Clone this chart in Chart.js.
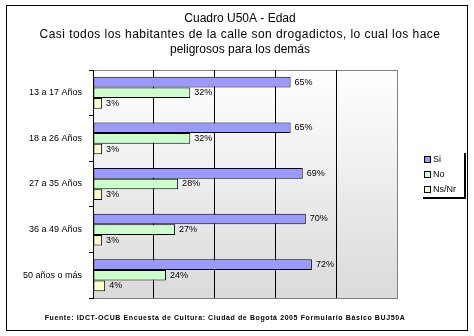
<!DOCTYPE html>
<html>
<head>
<meta charset="utf-8">
<script src="https://cdn.jsdelivr.net/npm/chart.js@4/dist/chart.umd.min.js"></script>
<style>
  body { margin: 0; background: #fff; }
  #wrap { width: 474px; height: 336px; }
</style>
</head>
<body>
<div id="wrap"><canvas id="chart" width="474" height="336"></canvas></div>
<script>
// ==================== DATA ====================
const categories = ['13 a 17 Años', '18 a 26 Años', '27 a 35 Años', '36 a 49 Años', '50 años o más'];
const siValues = [65, 65, 69, 70, 72];
const noValues = [32, 32, 28, 27, 24];
const nsnrValues = [3, 3, 3, 3, 4];
const seriesNames = ['Si', 'No', 'Ns/Nr'];
const seriesColors = ['#9999FF', '#CCFFCC', '#FFFFCC'];
const xMax = 100;
const xStep = 20;

const titleLines = [
  'Cuadro U50A - Edad',
  'Casi todos los habitantes de la calle son drogadictos, lo cual los hace',
  'peligrosos para los demás'
];
const titleSpacing = ['0px', '0.45px', '0px'];
const footerText = 'Fuente: IDCT-OCUB Encuesta de Cultura: Ciudad de Bogotá 2005 Formulario Básico BUJ50A';

// ==================== PLUGINS ====================
const frame = {
  id: 'frame',
  beforeDraw(chart) {
    const { ctx, chartArea: a } = chart;
    ctx.save();
    ctx.fillStyle = '#fff';
    ctx.fillRect(0, 0, chart.width, chart.height);
    // plot area gradient
    const g = ctx.createLinearGradient(0, a.top, 0, a.bottom);
    g.addColorStop(0, '#ffffff');
    g.addColorStop(1, '#dadada');
    ctx.fillStyle = g;
    ctx.fillRect(a.left, a.top, a.right - a.left, a.bottom - a.top);
    ctx.strokeStyle = '#808080';
    ctx.lineWidth = 1;
    ctx.beginPath();
    ctx.moveTo(a.left, a.top + 0.5);
    ctx.lineTo(a.right + 0.5, a.top + 0.5);
    ctx.stroke();
    ctx.restore();
  },
  afterDraw(chart) {
    const { ctx } = chart;
    ctx.save();
    // outer border
    ctx.strokeStyle = '#000';
    ctx.lineWidth = 1;
    ctx.strokeRect(6.5, 5.5, 461, 325);

    // title
    ctx.fillStyle = '#000';
    ctx.textAlign = 'center';
    ctx.textBaseline = 'middle';
    ctx.font = '12px "Liberation Sans", Arial, sans-serif';
    titleLines.forEach((t, i) => {
      ctx.letterSpacing = titleSpacing[i];
      ctx.fillText(t, 240, 19 + i * 15.5);
    });

    // footer
    ctx.font = 'bold 7px "Liberation Sans", Arial, sans-serif';
    ctx.letterSpacing = '0.6px';
    ctx.fillText(footerText, 225, 318);
    ctx.letterSpacing = '0px';

    // legend
    ctx.textAlign = 'left';
    ctx.font = '9px "Liberation Sans", Arial, sans-serif';
    seriesNames.forEach((name, i) => {
      const y = 160 + i * 15;
      ctx.fillStyle = seriesColors[i];
      ctx.fillRect(425, y - 3, 5, 5);
      ctx.strokeStyle = '#000';
      ctx.strokeRect(424.5, y - 3.5, 6, 6);
      ctx.fillStyle = '#000';
      ctx.fillText(name, 433, y);
    });
    ctx.fillRect(464, 153, 2, 46);
    ctx.fillRect(423, 197, 43, 2);
    ctx.restore();
  }
};

const valueLabels = {
  id: 'valueLabels',
  afterDatasetsDraw(chart) {
    const { ctx } = chart;
    ctx.save();
    ctx.font = '9px "Liberation Sans", Arial, sans-serif';
    ctx.fillStyle = '#000';
    ctx.textAlign = 'left';
    ctx.textBaseline = 'middle';
    chart.data.datasets.forEach((ds, i) => {
      chart.getDatasetMeta(i).data.forEach((bar, j) => {
        ctx.fillText(ds.data[j] + '%', bar.x + 4, bar.y);
      });
    });
    ctx.restore();
  }
};

// ==================== CHART ====================
new Chart(document.getElementById('chart'), {
  type: 'bar',
  data: {
    labels: categories,
    datasets: [siValues, noValues, nsnrValues].map((vals, i) => ({
      label: seriesNames[i],
      data: vals,
      backgroundColor: seriesColors[i],
      borderColor: '#000',
      borderWidth: 1,
      borderSkipped: false,
      categoryPercentage: 0.7,
      barPercentage: 1.0
    }))
  },
  options: {
    indexAxis: 'y',
    responsive: false,
    animation: false,
    layout: { padding: { left: 0, top: 70, right: 77, bottom: 38 } },
    plugins: {
      legend: { display: false },
      title: { display: false },
      tooltip: { enabled: false }
    },
    scales: {
      x: {
        min: 0,
        max: xMax,
        ticks: { display: false, stepSize: xStep },
        grid: {
          drawTicks: false,
          color: c => (c.tick && c.tick.value === xMax ? '#808080' : '#000'),
          lineWidth: 1
        },
        border: { color: '#808080' }
      },
      y: {
        afterFit: scale => { scale.width = 93; },
        ticks: {
          color: '#000',
          padding: 7,
          font: { family: '"Liberation Sans", Arial, sans-serif', size: 9 }
        },
        grid: {
          drawOnChartArea: false,
          drawTicks: true,
          tickLength: 4,
          color: '#000'
        },
        border: { color: '#000' }
      }
    }
  },
  plugins: [frame, valueLabels]
});
</script>
</body>
</html>
